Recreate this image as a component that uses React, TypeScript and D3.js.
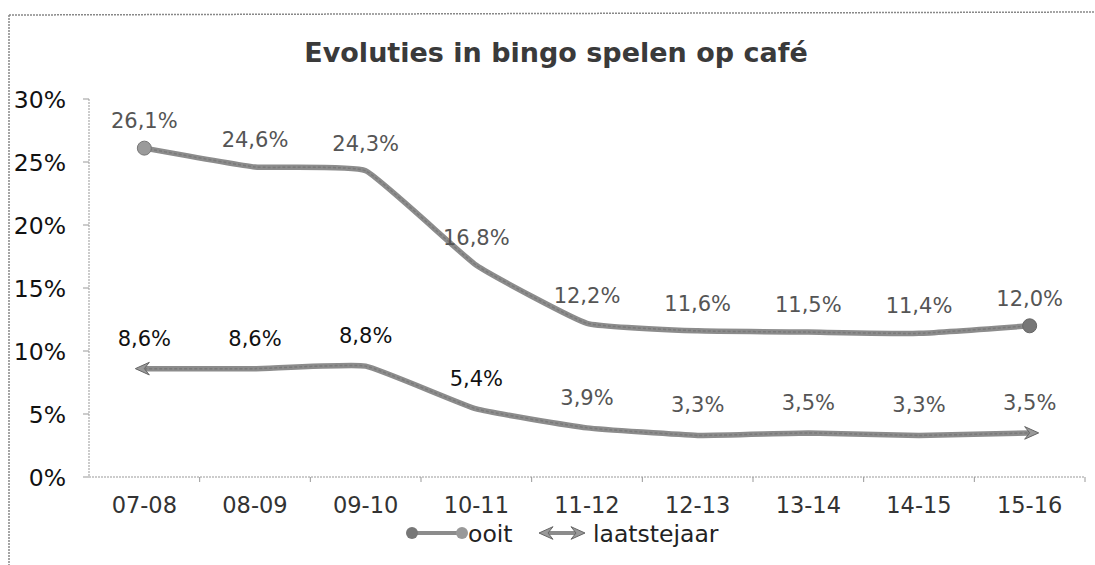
import React from "react";
import * as d3 from "d3";

const categories = ["07-08", "08-09", "09-10", "10-11", "11-12", "12-13", "13-14", "14-15", "15-16"];
const ooit = [26.1, 24.6, 24.3, 16.8, 12.2, 11.6, 11.5, 11.4, 12.0];
const laatstejaar = [8.6, 8.6, 8.8, 5.4, 3.9, 3.3, 3.5, 3.3, 3.5];
const yTicks = [0, 5, 10, 15, 20, 25, 30];

const W = 1095, H = 565;
const plot = { left: 89, right: 1085, top: 99, bottom: 477 };
const FONT = "'DejaVu Sans', Verdana, sans-serif";

const fmt = (v: number) => v.toFixed(1).replace(".", ",") + "%";

export default function App() {
  const x = d3.scaleBand<string>().domain(categories).range([plot.left, plot.right]);
  const cx = (c: string) => (x(c) as number) + x.bandwidth() / 2;
  const y = d3.scaleLinear().domain([0, 30]).range([plot.bottom, plot.top]);
  const line = d3
    .line<number>()
    .x((_, i) => cx(categories[i]))
    .y((d) => y(d))
    .curve(d3.curveCardinal.tension(0.65));

  const lineColor = "#8c8c8c";
  const lineDark = "#6e6e6e";

  const arrow = (px: number, py: number, dir: number) => {
    const s = 9;
    return `M${px + dir * 3},${py} L${px - dir * (s + 2)},${py - s * 0.7} L${px - dir * (s - 3)},${py} L${px - dir * (s + 2)},${py + s * 0.7} Z`;
  };

  const first = 0, last = categories.length - 1;

  return (
    <svg width={W} height={H} style={{ display: "block", position: "absolute", left: 0, top: 0, background: "#fff" }}>
      {/* border */}
      <line x1={9} y1={15} x2={W} y2={12} stroke="#888" strokeWidth={1.5} strokeDasharray="2,1" />
      <line x1={9} y1={15} x2={9} y2={H} stroke="#888" strokeWidth={1.5} strokeDasharray="2,1" />

      <text x={556} y={62} textAnchor="middle" fontFamily={FONT} fontWeight="bold" fontSize={27} fill="#3a3a3a">
        Evoluties in bingo spelen op café
      </text>

      {/* y axis */}
      <line x1={plot.left} y1={plot.top} x2={plot.left} y2={plot.bottom} stroke="#999" strokeWidth={1} strokeDasharray="2,1" />
      {yTicks.map((t) => (
        <g key={t}>
          <line x1={plot.left - 6} x2={plot.left} y1={y(t)} y2={y(t)} stroke="#999" />
          <text x={66} y={y(t) + 9} textAnchor="end" fontFamily={FONT} fontSize={23.5} fill="#111">
            {t}%
          </text>
        </g>
      ))}

      {/* x axis */}
      <line x1={plot.left} y1={plot.bottom} x2={plot.right} y2={plot.bottom} stroke="#999" strokeWidth={1} strokeDasharray="2,1" />
      {categories.map((c) => (
        <g key={c}>
          <line x1={(x(c) as number) + x.bandwidth()} x2={(x(c) as number) + x.bandwidth()} y1={plot.bottom} y2={plot.bottom + 5} stroke="#999" />
          <text x={cx(c)} y={513} textAnchor="middle" fontFamily={FONT} fontSize={22.5} fill="#333">
            {c}
          </text>
        </g>
      ))}

      {/* ooit */}
      <path d={line(ooit) || ""} fill="none" stroke={lineColor} strokeWidth={5.5} strokeLinejoin="round" />
      <path d={line(ooit) || ""} fill="none" stroke={lineDark} strokeWidth={1.5} strokeDasharray="3,2" opacity={0.6} />
      <circle cx={cx(categories[first])} cy={y(ooit[first])} r={7} fill="#9a9a9a" stroke="#777" />
      <circle cx={cx(categories[last])} cy={y(ooit[last])} r={7} fill="#777" stroke="#666" />
      {ooit.map((v, i) => (
        <text key={i} x={cx(categories[i])} y={y(v) - 20} textAnchor="middle" fontFamily={FONT} fontSize={21} fill="#555">
          {fmt(v)}
        </text>
      ))}

      {/* laatstejaar */}
      <path d={line(laatstejaar) || ""} fill="none" stroke={lineColor} strokeWidth={5.5} strokeLinejoin="round" />
      <path d={line(laatstejaar) || ""} fill="none" stroke={lineDark} strokeWidth={1.5} strokeDasharray="3,2" opacity={0.6} />
      <path d={arrow(cx(categories[first]) - 6, y(laatstejaar[first]), -1)} fill="#999" stroke="#666" />
      <path d={arrow(cx(categories[last]) + 6, y(laatstejaar[last]), 1)} fill="#999" stroke="#666" />
      {laatstejaar.map((v, i) => (
        <text key={i} x={cx(categories[i])} y={y(v) - 23} textAnchor="middle" fontFamily={FONT} fontSize={21} fill={i < 4 ? "#111" : "#555"}>
          {fmt(v)}
        </text>
      ))}

      {/* legend */}
      <g>
        <line x1={412} x2={460} y1={533} y2={533} stroke={lineColor} strokeWidth={4} />
        <circle cx={412} cy={533} r={6} fill="#777" />
        <circle cx={462} cy={533} r={6} fill="#999" />
        <text x={468} y={542} fontFamily={FONT} fontSize={23.5} fill="#222">ooit</text>
        <line x1={545} x2={577} y1={533} y2={533} stroke={lineColor} strokeWidth={4} />
        <path d={arrow(542, 533, -1)} fill="#999" stroke="#666" />
        <path d={arrow(582, 533, 1)} fill="#999" stroke="#666" />
        <text x={593} y={542} fontFamily={FONT} fontSize={23.5} fill="#222">laatstejaar</text>
      </g>
    </svg>
  );
}
